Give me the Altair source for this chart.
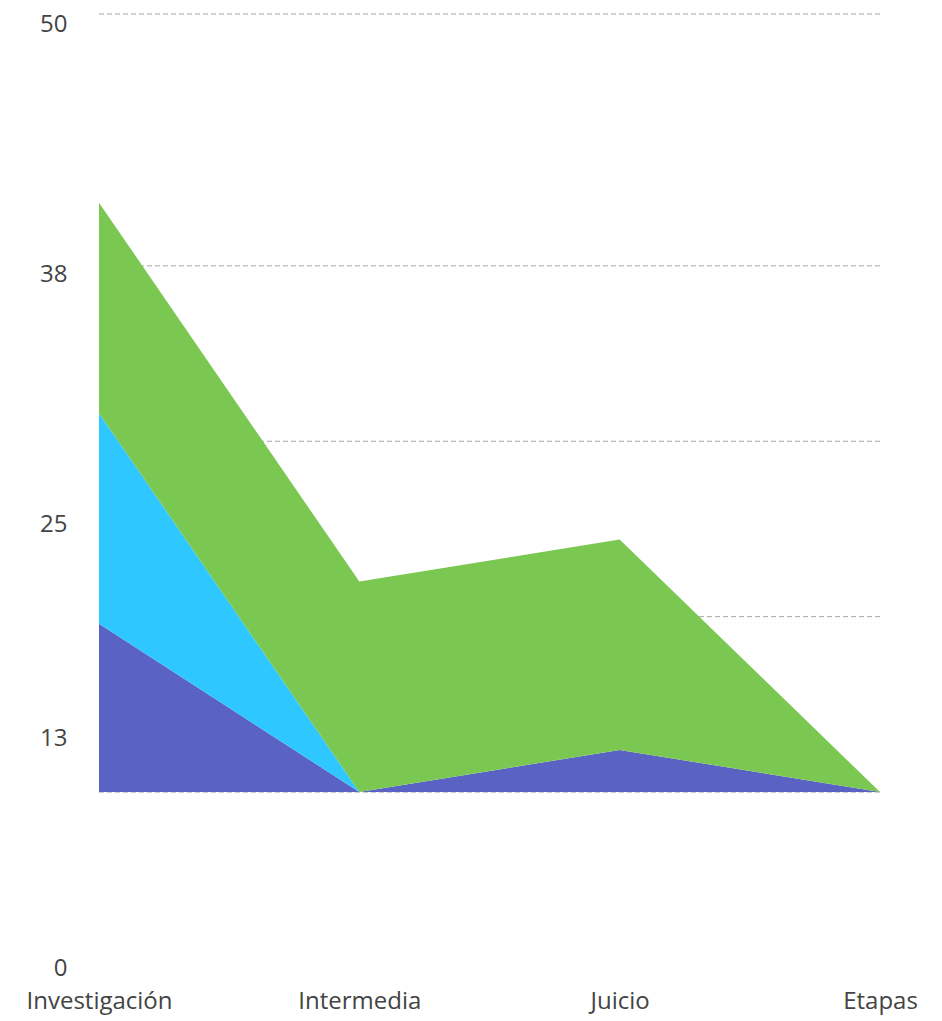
import altair as alt
import pandas as pd

# ---- data ----
etapas = ["Investigación", "Intermedia", "Juicio", "Etapas"]
series = ["Serie 1", "Serie 2", "Serie 3"]
serie_1 = [12, 0, 3, 0]
serie_2 = [15, 0, 0, 0]
serie_3 = [15, 15, 15, 0]
colores = ["#5a62c4", "#2ec7ff", "#7ac852"]

# axis / grid
grid_values = [0, 12.5, 25, 37.5, 55.45]
y_tick_labels = ["50", "38", "25", "13", "0"]
y_tick_positions = [54.7, 36.85, 19.05, 3.8, -12.55]
y_domain = [-13.04, 55.45]

rows = []
for s_idx, (name, vals) in enumerate(zip(series, [serie_1, serie_2, serie_3])):
    for e, v in zip(etapas, vals):
        rows.append({"etapa": e, "serie": name, "valor": v, "orden": s_idx})
df = pd.DataFrame(rows)
grid_df = pd.DataFrame({"valor": grid_values})

label_expr = "''"
for pos, lbl in zip(reversed(y_tick_positions), reversed(y_tick_labels)):
    label_expr = f"abs(datum.value - ({pos})) < 0.01 ? '{lbl}' : " + label_expr

font = "Open Sans"
y_scale = alt.Scale(domain=y_domain, nice=False, zero=False)

grid = alt.Chart(grid_df).mark_rule(
    color="#a6a6a6", strokeWidth=1, strokeDash=[5, 3]
).encode(
    y=alt.Y("valor:Q", scale=y_scale, axis=None)
)

areas = alt.Chart(df).mark_area(interpolate="linear").encode(
    x=alt.X(
        "etapa:N",
        sort=etapas,
        scale=alt.Scale(type="point", padding=0),
        axis=alt.Axis(
            title=None, labelAngle=0, ticks=False, domain=False, grid=False,
            labelFont=font, labelFontSize=24, labelColor="#444444",
            labelPadding=14,
        ),
    ),
    y=alt.Y(
        "valor:Q",
        stack="zero",
        scale=y_scale,
        axis=alt.Axis(
            title=None, values=y_tick_positions, labelExpr=label_expr,
            grid=False, ticks=False, domain=False,
            labelFont=font, labelFontSize=24, labelColor="#444444",
            labelPadding=32, labelOverlap=False, labelFlush=False,
        ),
    ),
    color=alt.Color("serie:N", scale=alt.Scale(domain=series, range=colores), legend=None),
    order=alt.Order("orden:Q"),
)

chart = alt.layer(grid, areas).resolve_axis(y="independent").properties(
    width=781,
    height=961,
    autosize=alt.AutoSizeParams(type="none"),
    padding={"left": 99, "right": 62, "top": 14, "bottom": 46},
    background="white",
).configure_view(stroke=None)

chart.save("out.html", embed_options={"renderer": "svg", "actions": False})
